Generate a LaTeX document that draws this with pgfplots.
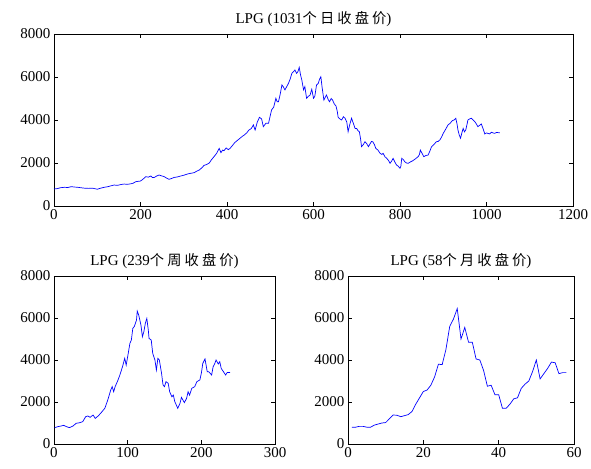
\documentclass[border=0pt]{standalone}
\usepackage{fontspec}
\setmainfont{Liberation Serif}
\newfontfamily\cjk{Noto Sans CJK SC}[LetterSpace=22, Scale=0.95]
\usepackage{pgfplots}
\pgfplotsset{compat=1.18}

\pgfplotsset{
  lpgstyle/.style={
    scale only axis,
    anchor=south west,
    ymin=0, ymax=8000,
    ytick={0,2000,4000,6000,8000},
    tick align=inside,
    major tick length=4pt,
    axis line style={line width=0.8pt},
    tick style={line width=0.6pt, black},
    scaled ticks=false,
    /pgf/number format/assume math mode=true,
    /pgf/number format/1000 sep={},
    tick label style={font=\fontsize{15}{17}\selectfont},
    title style={font=\fontsize{15}{17}\selectfont, yshift=-2pt},
  }
}

\begin{document}
\begin{tikzpicture}
\path[use as bounding box] (0pt,0pt) rectangle (591pt,468pt);

\begin{axis}[lpgstyle,
  at={(54pt,262pt)}, width=519pt, height=172pt,
  xmin=0, xmax=1200, xtick={0,200,...,1200},
  title={LPG (1031{\cjk 个日收盘价})},
]
\addplot[blue, no marks, line width=0.7pt] coordinates {
(0,790) (8,810) (15,850) (24,870) (32,860) (40,900) (48,880) (55,870) (62,850) (70,830)
(80,820) (90,825) (100,780) (108,830) (116,870) (125,900) (132,940) (139,975) (147,960) (155,1000)
(162,1020) (170,1010) (177,1030) (183,1060) (189,1130) (195,1150) (200,1160) (206,1250) (212,1365) (218,1340)
(224,1395) (228,1320) (232,1330) (238,1400) (243,1440) (249,1400) (255,1365) (260,1300) (266,1240) (272,1280)
(278,1330) (285,1350) (293,1395) (300,1430) (309,1490) (316,1520) (324,1550) (330,1620) (336,1675) (342,1780)
(347,1890) (353,1930) (359,2000) (364,2150) (370,2295) (376,2450) (382,2680) (386,2480) (390,2600) (393,2570)
(398,2700) (403,2620) (407,2680) (412,2800) (418,2950) (424,3050) (430,3150) (436,3250) (440,3300) (446,3410)
(450,3520) (456,3600) (461,3770) (465,3535) (470,3900) (475,4125) (480,4050) (484,3690) (490,3850) (496,3845)
(500,4200) (503,4465) (508,4600) (513,5010) (516,4850) (519,4850) (523,5200) (527,5630) (530,5550) (534,5400)
(538,5550) (542,5700) (546,5900) (550,6170) (554,6250) (557,6325) (561,6170) (564,6250) (567,6450) (570,6100)
(573,5860) (577,5400) (580,5550) (584,5010) (588,5100) (592,5160) (596,5430) (600,5010) (603,5100) (607,5630)
(611,5700) (614,5900) (617,6015) (620,5500) (624,4930) (627,5050) (630,5160) (634,4950) (637,4850) (641,5000)
(644,4930) (648,4750) (652,4650) (655,4400) (657,4125) (661,4050) (665,4000) (669,4150) (673,4080) (677,3900)
(680,3455) (684,3800) (688,4080) (692,3850) (696,3610) (700,3600) (703,3500) (706,3455) (709,3100) (711,2760)
(715,2850) (719,2990) (723,2900) (727,2760) (731,2900) (734,3000) (737,2990) (741,2850) (744,2680) (749,2600)
(754,2450) (758,2400) (761,2450) (765,2295) (770,2200) (774,2100) (777,1985) (781,2100) (784,2215) (788,2050)
(792,1905) (796,1850) (800,1755) (802,1850) (804,2215) (808,2150) (811,2060) (815,2000) (819,1985) (824,2050)
(830,2110) (836,2200) (842,2295) (845,2400) (847,2600) (851,2450) (855,2295) (860,2350) (865,2370) (869,2550)
(873,2760) (878,2850) (884,2990) (888,3000) (892,3070) (896,3200) (900,3380) (905,3550) (911,3770) (916,3850)
(921,3970) (925,4000) (929,4080) (932,3800) (934,3535) (937,3300) (940,3150) (943,3400) (946,3610) (949,3450)
(952,3535) (955,3800) (957,4000) (961,4050) (965,4080) (969,4000) (973,3920) (977,3800) (980,3690) (984,3750)
(988,3815) (992,3600) (996,3350) (1000,3400) (1003,3380) (1007,3350) (1011,3430) (1015,3400) (1019,3380) (1023,3420)
(1028,3410) (1031,3400)
};
\end{axis}

\begin{axis}[lpgstyle,
  at={(54pt,24pt)}, width=221pt, height=168pt,
  xmin=0, xmax=300, xtick={0,100,200,300},
  title={LPG (239{\cjk 个周收盘价})},
]
\addplot[blue, no marks, line width=0.7pt] coordinates {
(1,780) (5,825) (10,860) (13,890) (17,825) (21,780) (26,860) (30,985) (35,1015) (39,1065)
(43,1300) (46,1335) (49,1270) (53,1380) (56,1220) (60,1335) (64,1490) (69,1700) (73,2095) (77,2570)
(79,2730) (81,2490) (83,2730) (86,2970) (89,3240) (93,3680) (96,4080) (98,3760) (100,4160) (103,4790)
(105,4950) (107,5510) (109,5590) (112,5900) (113,6330) (115,6140) (118,5670) (120,5110) (122,5350) (124,5750)
(126,5980) (128,5430) (129,5030) (132,4950) (134,4320) (137,4000) (139,3520) (141,4080) (143,4000) (146,3365)
(148,2810) (150,2730) (152,2970) (155,2890) (157,2490) (160,2250) (162,2330) (164,2015) (166,1860) (168,1700)
(171,1935) (173,2220) (175,2095) (177,1970) (180,2175) (182,2490) (184,2330) (187,2650) (191,2730) (194,2970)
(198,3050) (200,3365) (202,3840) (205,4050) (208,3445) (210,3445) (214,3285) (216,3680) (218,3810) (220,4000)
(223,3810) (225,3920) (227,3600) (230,3445) (233,3285) (235,3400) (239,3410)
};
\end{axis}

\begin{axis}[lpgstyle,
  at={(348pt,24pt)}, width=226pt, height=168pt,
  xmin=0, xmax=60, xtick={0,20,40,60},
  title={LPG (58{\cjk 个月收盘价})},
]
\addplot[blue, no marks, line width=0.7pt] coordinates {
(1,800) (2,800) (3,840) (4,840) (5,800) (6,800) (7,900) (8,950) (9,1000) (10,1020)
(11,1200) (12,1380) (13,1370) (14,1300) (15,1350) (16,1400) (17,1550) (18,1900) (19,2200) (20,2500)
(21,2570) (22,2800) (23,3200) (24,3800) (25,3780) (26,4500) (27,5600) (28,5950) (29,6450) (30,5000)
(31,5550) (32,4850) (33,4850) (34,4050) (35,4000) (36,3500) (37,2750) (38,2800) (39,2350) (40,2350)
(41,1700) (42,1700) (43,1900) (44,2150) (45,2200) (46,2650) (47,2850) (48,3000) (49,3450) (50,4000)
(51,3100) (52,3350) (53,3600) (54,3900) (55,3870) (56,3350) (57,3400) (58,3400)
};
\end{axis}
\end{tikzpicture}
\end{document}
